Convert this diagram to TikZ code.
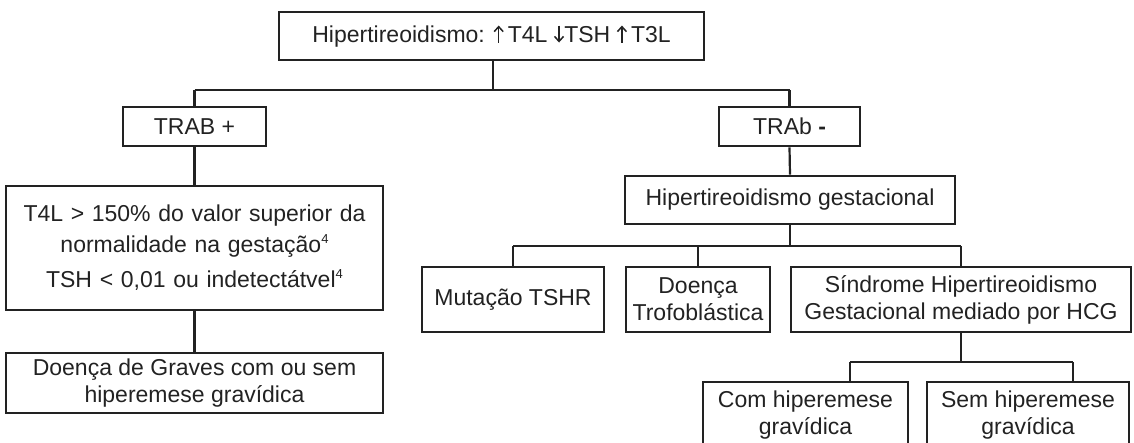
\documentclass[tikz,border=0pt]{standalone}
\usepackage{fontspec}
\setmainfont{Liberation Sans}
\usetikzlibrary{arrows.meta}
\definecolor{ink}{HTML}{222222}
\newcommand{\uparr}{\tikz[baseline=0pt]{\draw[ink,line width=1.5pt,-{Straight Barb[length=5pt,width=9pt]}] (0pt,0pt) -- (0pt,17pt);}}
\newcommand{\dnarr}{\tikz[baseline=0pt]{\draw[ink,line width=1.5pt,-{Straight Barb[length=5pt,width=9pt]}] (0pt,17pt) -- (0pt,0pt);}}
\newcommand{\supfour}{\raisebox{0.42em}{\fontsize{13}{13}\selectfont 4}}
\begin{document}
\begin{tikzpicture}[x=1pt,y=-1pt,
  box/.style={draw=ink,line width=2.6pt,rectangle,inner sep=0pt,align=center,
    text=ink,font=\fontsize{23}{27}\selectfont},
  link/.style={draw=ink,line width=2.2pt}]
\useasboundingbox (0,0) rectangle (1134,442);
\clip (0,0) rectangle (1134,442);
% boxes
\node[box,minimum width=425pt,minimum height=48pt] (top) at (491.5,36) {Hipertireoidismo: \uparr\,T4L \dnarr TSH \uparr\,T3L};
\node[box,minimum width=143pt,minimum height=39pt] (trabp) at (194.5,126.5) {TRAB +};
\node[box,minimum width=141pt,minimum height=39pt] (trabm) at (789.5,126.5) {TRAb {\bfseries -}};
\node[box,minimum width=377pt,minimum height=124pt,text width=370pt,font=\fontsize{23}{31}\selectfont] (t4l) at (194.5,248) {T4L > 150\% do valor superior da\\ normalidade na gestação\supfour\\[4pt] TSH < 0,01 ou indetectátvel\supfour};
\node[box,minimum width=377pt,minimum height=60pt] (graves) at (194.5,383) {Doença de Graves com ou sem\\ hiperemese gravídica};
\node[box,minimum width=330pt,minimum height=48pt] (hg) at (790,200) {Hipertireoidismo gestacional};
\node[box,minimum width=182pt,minimum height=65pt] (mut) at (513,299.5) {Mutação TSHR};
\node[box,minimum width=144pt,minimum height=65pt] (trof) at (698,299.5) {Doença\\ Trofoblástica};
\node[box,minimum width=340pt,minimum height=65pt] (sind) at (961,299.5) {Síndrome Hipertireoidismo\\ Gestacional mediado por HCG};
\node[box,minimum width=205pt,minimum height=66pt] (com) at (805.5,415) {Com hiperemese\\ gravídica};
\node[box,minimum width=202pt,minimum height=66pt] (sem) at (1028,415) {Sem hiperemese\\ gravídica};
% junctions
\coordinate (j1) at (493,90);
\coordinate (j2) at (790,246);
\coordinate (j3) at (961,362);
\coordinate (j3l) at (850,362);
\coordinate (j3r) at (1073,362);
% connectors
\draw[link] (top.south -| j1) -- (j1);
\draw[link] (trabp.north |- j1) -- (trabm.north |- j1);
\draw[link] (trabp.north |- j1) -- (trabp.north);
\draw[link] (trabm.north |- j1) -- (trabm.north);
\draw[link] (trabp.south) -- (t4l.north);
\draw[link] (t4l.south) -- (graves.north);
\draw[link] (trabm.south) -- (hg.north);
\draw[link] (hg.south) -- (j2);
\draw[link] (mut.north |- j2) -- (sind.north |- j2);
\draw[link] (mut.north |- j2) -- (mut.north);
\draw[link] (trof.north |- j2) -- (trof.north);
\draw[link] (sind.north |- j2) -- (sind.north);
\draw[link] (sind.south) -- (j3);
\draw[link] (j3l) -- (j3r);
\draw[link] (j3l) -- (j3l |- com.north);
\draw[link] (j3r) -- (j3r |- sem.north);
\end{tikzpicture}
\end{document}
